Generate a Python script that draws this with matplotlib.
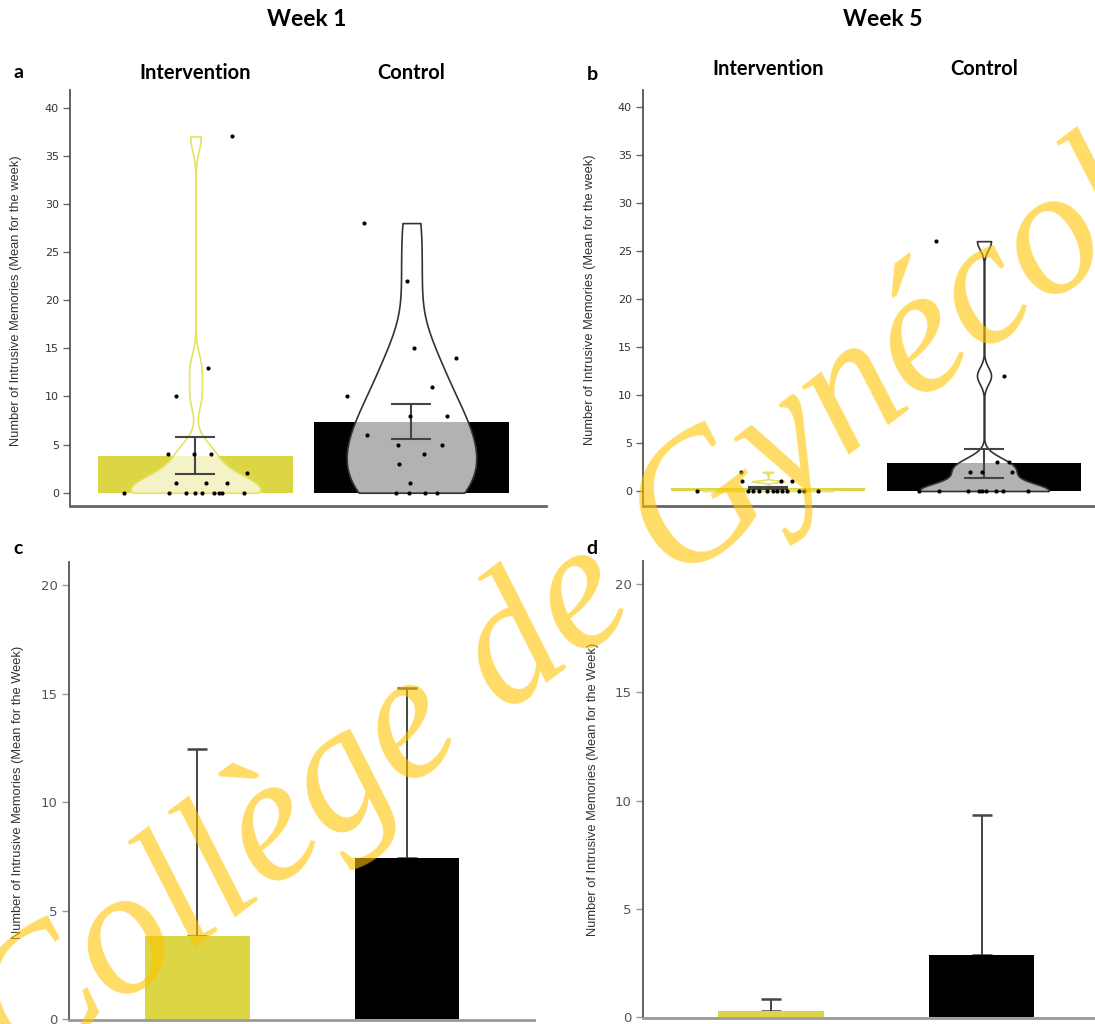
import numpy as np
import matplotlib
matplotlib.use("Agg")
import matplotlib.pyplot as plt

W, H = 1095, 1024

grupos = ["Intervention", "Control"]
col_int = "#dcd645"
col_ctl = "black"

# semana 1: valores individuales y desplazamiento horizontal (jitter)
w1_int_vals = [37, 13, 10, 4, 4, 4, 2, 1, 1, 1, 0, 0, 0, 0, 0, 0, 0, 0, 0]
w1_int_jit = [0.169, 0.058, -0.09, -0.127, -0.007, 0.072, 0.238, -0.09, 0.049, 0.146,
              -0.331, -0.123, -0.044, -0.002, 0.03, 0.086, 0.109, 0.123, 0.225]
w1_ctl_vals = [28, 22, 15, 14, 10, 11, 8, 8, 6, 5, 5, 4, 3, 1, 0, 0, 0, 0]
w1_ctl_jit = [-0.22, -0.022, 0.012, 0.205, -0.297, 0.094, -0.007, 0.166, -0.206, -0.061,
              0.14, 0.058, -0.058, -0.007, -0.072, -0.012, 0.063, 0.117]

# semana 5
w5_int_vals = [2, 1, 1, 1, 0, 0, 0, 0, 0, 0, 0, 0, 0, 0, 0, 0]
w5_int_jit = [-0.123, -0.122, 0.059, 0.111, -0.33, -0.094, -0.069, -0.042, -0.006, 0.022,
              0.04, 0.063, 0.087, 0.145, 0.167, 0.233]
w5_ctl_vals = [26, 12, 3, 3, 2, 2, 2, 0, 0, 0, 0, 0, 0, 0, 0, 0]
w5_ctl_jit = [-0.222, 0.093, 0.06, 0.116, -0.065, -0.009, 0.13, -0.3, -0.208, -0.073,
              -0.023, -0.011, 0.008, 0.057, 0.089, 0.202]

# barras (media) y error estandar de los paneles a y b
w1_bar = [3.84, 7.37]
w1_err_lo = [1.94, 5.58]
w1_err_hi = [5.81, 9.21]
w5_bar = [0.30, 2.88]
w5_err_lo = [0.16, 1.32]
w5_err_hi = [0.46, 4.34]

# paneles c y d: media y desviacion estandar
cd_w1_mean = [3.84, 7.42]
cd_w1_sd = [8.60, 7.83]
cd_w5_mean = [0.30, 2.89]
cd_w5_sd = [0.56, 6.44]

ylab_ab = "Number of Intrusive Memories (Mean for the week)"
ylab_cd = "Number of Intrusive Memories (Mean for the Week)"


def nrd0(kde):
    # ancho de banda tipo R (bw.nrd0)
    x = np.ravel(kde.dataset)
    sd = np.std(x, ddof=1)
    q75, q25 = np.percentile(x, [75, 25])
    lo = min(sd, (q75 - q25) / 1.34)
    if lo == 0:
        lo = sd
    bw = 0.9 * lo * len(x) ** -0.2
    return bw / sd


def ejes_px(fig, x0, x1, y0, y1):
    return fig.add_axes([x0 / W, 1 - y1 / H, (x1 - x0) / W, (y1 - y0) / H])


def estilo(ax, bottom_col):
    for s in ["top", "right"]:
        ax.spines[s].set_visible(False)
    ax.spines["left"].set_color("#555555")
    ax.spines["left"].set_linewidth(1.3)
    ax.spines["bottom"].set_color(bottom_col)
    ax.spines["bottom"].set_linewidth(2)
    ax.set_xticks([])
    ax.tick_params(axis="y", length=5, width=1, color="#666666", labelcolor="#333333",
                   labelsize=8, pad=3)


def violin(ax, vals, jit, pos, edge):
    parts = ax.violinplot([vals], positions=[pos], widths=0.6, showextrema=False,
                          bw_method=nrd0, points=600)
    for b in parts["bodies"]:
        b.set_alpha(None)
        b.set_facecolor((1, 1, 1, 0.7))
        b.set_edgecolor(edge)
        b.set_linewidth(1.2)
        b.set_zorder(2)
    ax.scatter(pos + np.array(jit), vals, s=9, color="black", zorder=4, linewidths=0)


def panel_violin(ax, bars, lo, hi, datos, xlim, ylim):
    x = np.arange(len(grupos))
    ax.bar(x, bars, width=0.9, color=[col_int, col_ctl], zorder=1)
    for i, (vals, jit) in enumerate(datos):
        violin(ax, vals, jit, x[i], "#e6e262" if i == 0 else "#333333")
    lo = np.array(lo)
    hi = np.array(hi)
    ax.errorbar(x, (lo + hi) / 2, yerr=(hi - lo) / 2, fmt="none", ecolor="#444444",
                elinewidth=1.5, capsize=14.4, capthick=1.5, zorder=3)
    ax.set_xlim(*xlim)
    ax.set_ylim(*ylim)
    ax.set_yticks(np.arange(0, 41, 5))
    estilo(ax, "#666666")


def panel_barras(ax, mean, sd, xlim, ylim):
    x = np.arange(len(grupos))
    ax.bar(x, mean, width=0.5, color=[col_int, col_ctl], zorder=1)
    ax.errorbar(x, mean, yerr=[np.zeros(len(sd)), sd], fmt="none", ecolor="#444444",
                elinewidth=1.4, capsize=7.5, capthick=1.8, zorder=0.5)
    ax.set_xlim(*xlim)
    ax.set_ylim(*ylim)
    ax.set_yticks([0, 5, 10, 15, 20])
    estilo(ax, "#999999")
    ax.tick_params(axis="y", labelsize=9.5, labelcolor="#555555", color="#999999")


fig = plt.figure(figsize=(W / 100, H / 100), dpi=100)

ax_a = ejes_px(fig, 70, 546, 90, 506)
panel_violin(ax_a, w1_bar, w1_err_lo, w1_err_hi,
             [(w1_int_vals, w1_int_jit), (w1_ctl_vals, w1_ctl_jit)],
             (-0.581, 1.623), (-1.38, 41.82))

ax_b = ejes_px(fig, 643, 1095, 90, 506)
panel_violin(ax_b, w5_bar, w5_err_lo, w5_err_hi,
             [(w5_int_vals, w5_int_jit), (w5_ctl_vals, w5_ctl_jit)],
             (-0.579, 1.514), (-1.56, 41.73))

ax_c = ejes_px(fig, 69, 534, 562, 1020)
panel_barras(ax_c, cd_w1_mean, cd_w1_sd, (-0.61, 1.605), (-0.046, 21.06))

ax_d = ejes_px(fig, 643, 1095, 561, 1018)
panel_barras(ax_d, cd_w5_mean, cd_w5_sd, (-0.608, 1.539), (-0.03, 21.06))

# textos de cabecera
fuente = "Lato"
fig.text(307 / W, 1 - 20 / H, "Week 1", ha="center", va="center", fontsize=16.5,
         fontweight="bold", family=fuente)
fig.text(883 / W, 1 - 20 / H, "Week 5", ha="center", va="center", fontsize=16.5,
         fontweight="bold", family=fuente)
for ax, yy in [(ax_a, 1.04), (ax_b, 1.05)]:
    for i, g in enumerate(grupos):
        ax.text(i, yy, g, transform=ax.get_xaxis_transform(), ha="center", va="center",
                fontsize=14.5, fontweight="bold", family=fuente)

for letra, px, py in [("a", 18, 72), ("b", 592, 75), ("c", 18, 548), ("d", 592, 548)]:
    fig.text(px / W, 1 - py / H, letra, ha="center", va="center", fontsize=14,
             fontweight="bold", family=fuente)

for txt, px, py in [(ylab_ab, 16, 301), (ylab_ab, 590, 300), (ylab_cd, 18, 792), (ylab_cd, 593, 789)]:
    fig.text(px / W, 1 - py / H, txt, rotation=90, ha="center", va="center",
             fontsize=9.3, color="#333333", family="Liberation Sans")

# marca de agua
fig.text(20 / W, 1 - 1080 / H, "Collège de Gynécologie", rotation=37, rotation_mode="anchor",
         ha="left", va="baseline", fontsize=130, family="Liberation Serif",
         fontstyle="italic", color="#FFC300", alpha=0.6, zorder=10)

fig.savefig("out.png", dpi=100)
